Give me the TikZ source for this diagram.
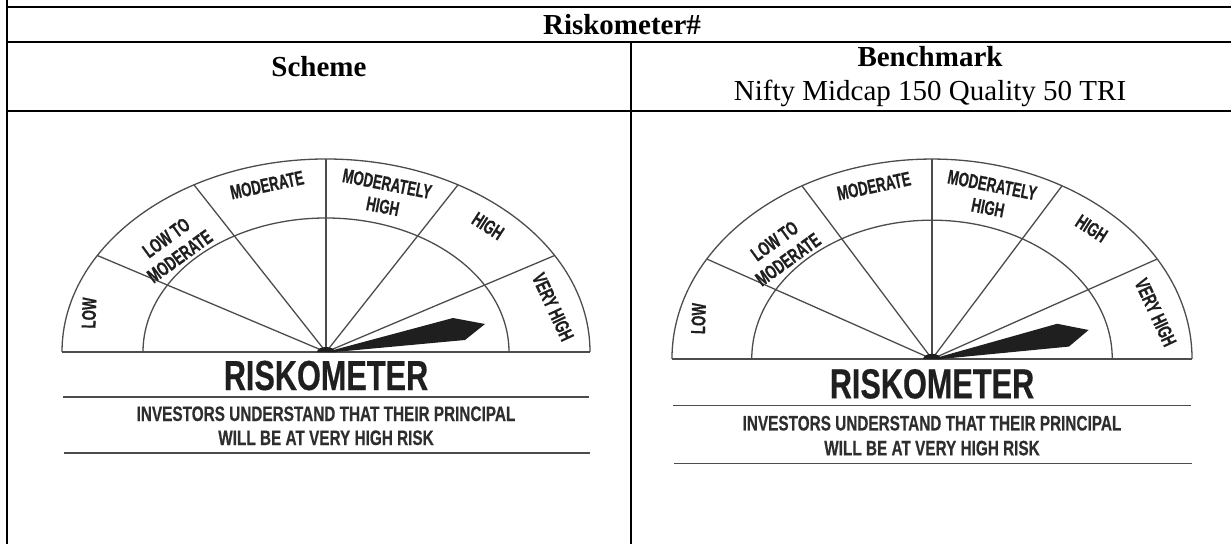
\documentclass[tikz,border=0pt]{standalone}
\usepackage{fontspec}
\setmainfont{Liberation Serif}
\newfontfamily\gaugefont[FakeStretch=0.73,FakeBold=0.4]{Liberation Sans}
\newfontfamily\zonefont[FakeStretch=0.66,FakeBold=0.5]{Liberation Sans}
\usetikzlibrary{calc,positioning}

\begin{document}
\begin{tikzpicture}[x=1pt,y=1pt]

  \tikzstyle{tabline}=[line width=2.2pt]
  \tikzstyle{headnode}=[font=\fontsize{29}{33}\selectfont\bfseries,anchor=base,inner sep=0pt]
  \tikzstyle{indexnode}=[font=\fontsize{29}{33}\selectfont,anchor=base,inner sep=0pt]
  \tikzstyle{dial}=[draw=black!70,line width=1.3pt]
  \tikzstyle{needle}=[fill=black!88,draw=none]
  \tikzstyle{zonelab}=[font=\zonefont\fontsize{20}{23}\selectfont\bfseries,text=black!88,align=center,inner sep=0pt]
  \tikzstyle{metertitle}=[font=\gaugefont\fontsize{42}{42}\selectfont\bfseries,text=black!88,anchor=base,inner sep=0pt]
  \tikzstyle{meternote}=[font=\gaugefont\fontsize{21}{24}\selectfont\bfseries,text=black!82,anchor=base,inner sep=0pt]

  \useasboundingbox (0,0) rectangle (1231,544);

  % table
  \draw[tabline] (7,544) -- (7,0);
  \draw[tabline] (7,537) -- (1231,537);
  \draw[tabline] (7,502) -- (1231,502);
  \draw[tabline] (7,433) -- (1231,433);
  \draw[tabline] (631,502) -- (631,0);

  \node[headnode] (title) at (622,509) {Riskometer\#};
  \node[headnode] (scheme) at (319,467) {Scheme};
  \node[headnode] (bench) at (930,477) {Benchmark};
  \node[indexnode] (index) at (930,443) {Nifty Midcap 150 Quality 50 TRI};

  % riskometers
  \foreach \gx/\gy/\sx/\sy/\g in {326/192/1/1/a, 932/185/0.985/1.036/b} {
    \begin{scope}[shift={(\gx,\gy)},xscale=\sx,yscale=\sy]
      \coordinate (piv\g) at (0,0);
      \draw[dial] (264pt,0) arc[start angle=0,end angle=180,x radius=264pt,y radius=193pt];
      \draw[dial] (183pt,0) arc[start angle=0,end angle=180,x radius=183pt,y radius=134pt];
      \draw[dial] (-264,0) -- (264,0);
      \foreach \ang in {30,60,90,120,150}
        \draw[dial] (piv\g) -- (\ang:264pt and 193pt);

      \fill[needle] (piv\g) -- (127,34) -- (159,28) -- (139,12) -- (9,0) -- cycle;
      \fill[needle] (-9,0) arc[start angle=180,end angle=0,x radius=9pt,y radius=5pt] -- cycle;

      \node[zonelab,rotate=88] (low\g) at (-237,39) {LOW};
      \node[zonelab,rotate=36] (lowmod\g) at (-153,105) {LOW TO\\MODERATE};
      \node[zonelab,rotate=12] (mod\g) at (-59,167) {MODERATE};
      \node[zonelab,rotate=-11] (modhigh\g) at (59,157) {MODERATELY\\HIGH};
      \node[zonelab,rotate=-33] (high\g) at (162,126) {HIGH};
      \node[zonelab,rotate=-65] (vhigh\g) at (227,45) {VERY HIGH};

      \node[metertitle] (meter\g) at (0,-38) {RISKOMETER};
      \draw[dial] (-263,-45) -- (263,-45);
      \node[meternote] (note\g) at (0,-69) {INVESTORS UNDERSTAND THAT THEIR PRINCIPAL};
      \node[meternote] (risk\g) at (0,-93) {WILL BE AT VERY HIGH RISK};
      \draw[dial] (-262,-101) -- (264,-101);
    \end{scope}
  }

\end{tikzpicture}
\end{document}
